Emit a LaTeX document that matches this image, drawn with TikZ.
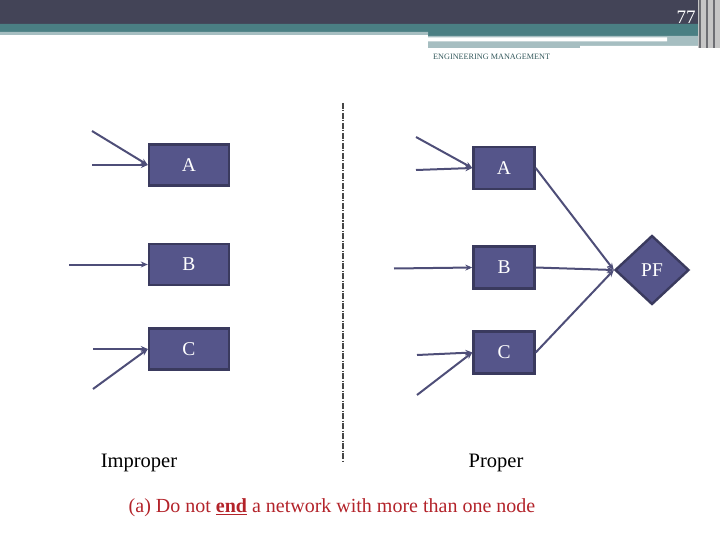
\documentclass[tikz,border=0pt]{standalone}
\usepackage{fontspec}
\setmainfont{Liberation Serif}
\usepackage{tikz}
\usetikzlibrary{shapes.geometric,arrows.meta}
\definecolor{hdrdark}{HTML}{434457}
\definecolor{hdrteal}{HTML}{4A7F83}
\definecolor{hdrlight}{HTML}{A6BEC1}
\definecolor{actfill}{HTML}{55558A}
\definecolor{actline}{HTML}{3A3A5E}
\definecolor{arcline}{HTML}{4E4E78}
\definecolor{notered}{HTML}{B3232A}

\begin{document}
\begin{tikzpicture}[x=1pt,y=-1pt,
act/.style={rectangle,draw=actline,fill=actfill,line width=2.4pt,text=white,font=\fontsize{19.5}{19.5}\selectfont,inner sep=0pt},
arc/.style={draw=arcline,line width=2pt,-{Stealth[length=7pt,width=6pt]}},
lbl/.style={font=\fontsize{20.5}{20.5}\selectfont}]
\useasboundingbox (0,0) rectangle (720,540);
% header bands
\fill[hdrdark] (0,0) rectangle (720,24);
\fill[hdrteal] (0,24) rectangle (698,32) (428,32) rectangle (698,36);
\fill[hdrlight] (0,32) rectangle (428,35) (428,36) rectangle (705,48);
\fill[white] (428,37.5) rectangle (667,41.5) (580,46) rectangle (705,48);
\fill[gray!45] (698,0) rectangle (720,48);
\foreach \x in {699,706,713} {
   \fill[gray!70!hdrdark] (\x,0) rectangle (\x+1.5,48);
}
\node[text=white,font=\fontsize{19}{19}\selectfont] (pageno) at (686,17) {77};
\node[text=hdrteal!70!black,font=\fontsize{8.2}{8.2}\selectfont,anchor=west,inner sep=0pt] (title) at (433,57) {ENGINEERING MANAGEMENT};
% divider
\draw[gray!55!black,line width=1.1pt,dash pattern=on 6pt off 1.5pt on 1pt off 1.5pt] (343,103) coordinate (dtop) -- (343,462) coordinate (dbot);
% improper side
\foreach \n/\y in {A/165,B/264.5,C/349} {
   \node[act,minimum width=80pt,minimum height=41pt] (i\n) at (189,\y) {\n};
}
\coordinate (iA1) at (92,131);
\coordinate (iA2) at (92,165);
\coordinate (iB1) at (69,264.5);
\coordinate (iC1) at (93,349);
\coordinate (iC2) at (93,389);
\draw[arc] (iA1) -- (iA.west);
\draw[arc] (iA2) -- (iA.west);
\draw[arc] (iB1) -- (iB.west);
\draw[arc] (iC1) -- (iC.west);
\draw[arc] (iC2) -- (iC.west);
% proper side
\foreach \n/\y in {A/168,B/267.5,C/352.5} {
   \node[act,minimum width=61pt,minimum height=42pt] (p\n) at (504,\y) {\n};
}
\node[act,shape=diamond,minimum width=74pt,minimum height=69pt] (pf) at (652,270) {PF};
\coordinate (pA1) at (416,137);
\coordinate (pA2) at (416,170);
\coordinate (pB1) at (394,268.5);
\coordinate (pC1) at (417,355);
\coordinate (pC2) at (417,395);
\draw[arc] (pA1) -- (pA.west);
\draw[arc] (pA2) -- (pA.west);
\draw[arc] (pB1) -- (pB.west);
\draw[arc] (pC1) -- (pC.west);
\draw[arc] (pC2) -- (pC.west);
\foreach \n in {A,B,C} {
   \draw[arc] (p\n.east) -- (pf.west);
}
% captions
\node[lbl] (improper) at (139,463) {Improper};
\node[lbl] (proper) at (496,463) {Proper};
\node[lbl,text=notered,font=\fontsize{20}{20}\selectfont] (rule) at (332,508) {(a) Do not \underline{\textbf{end}} a network with more than one node};
\end{tikzpicture}
\end{document}
